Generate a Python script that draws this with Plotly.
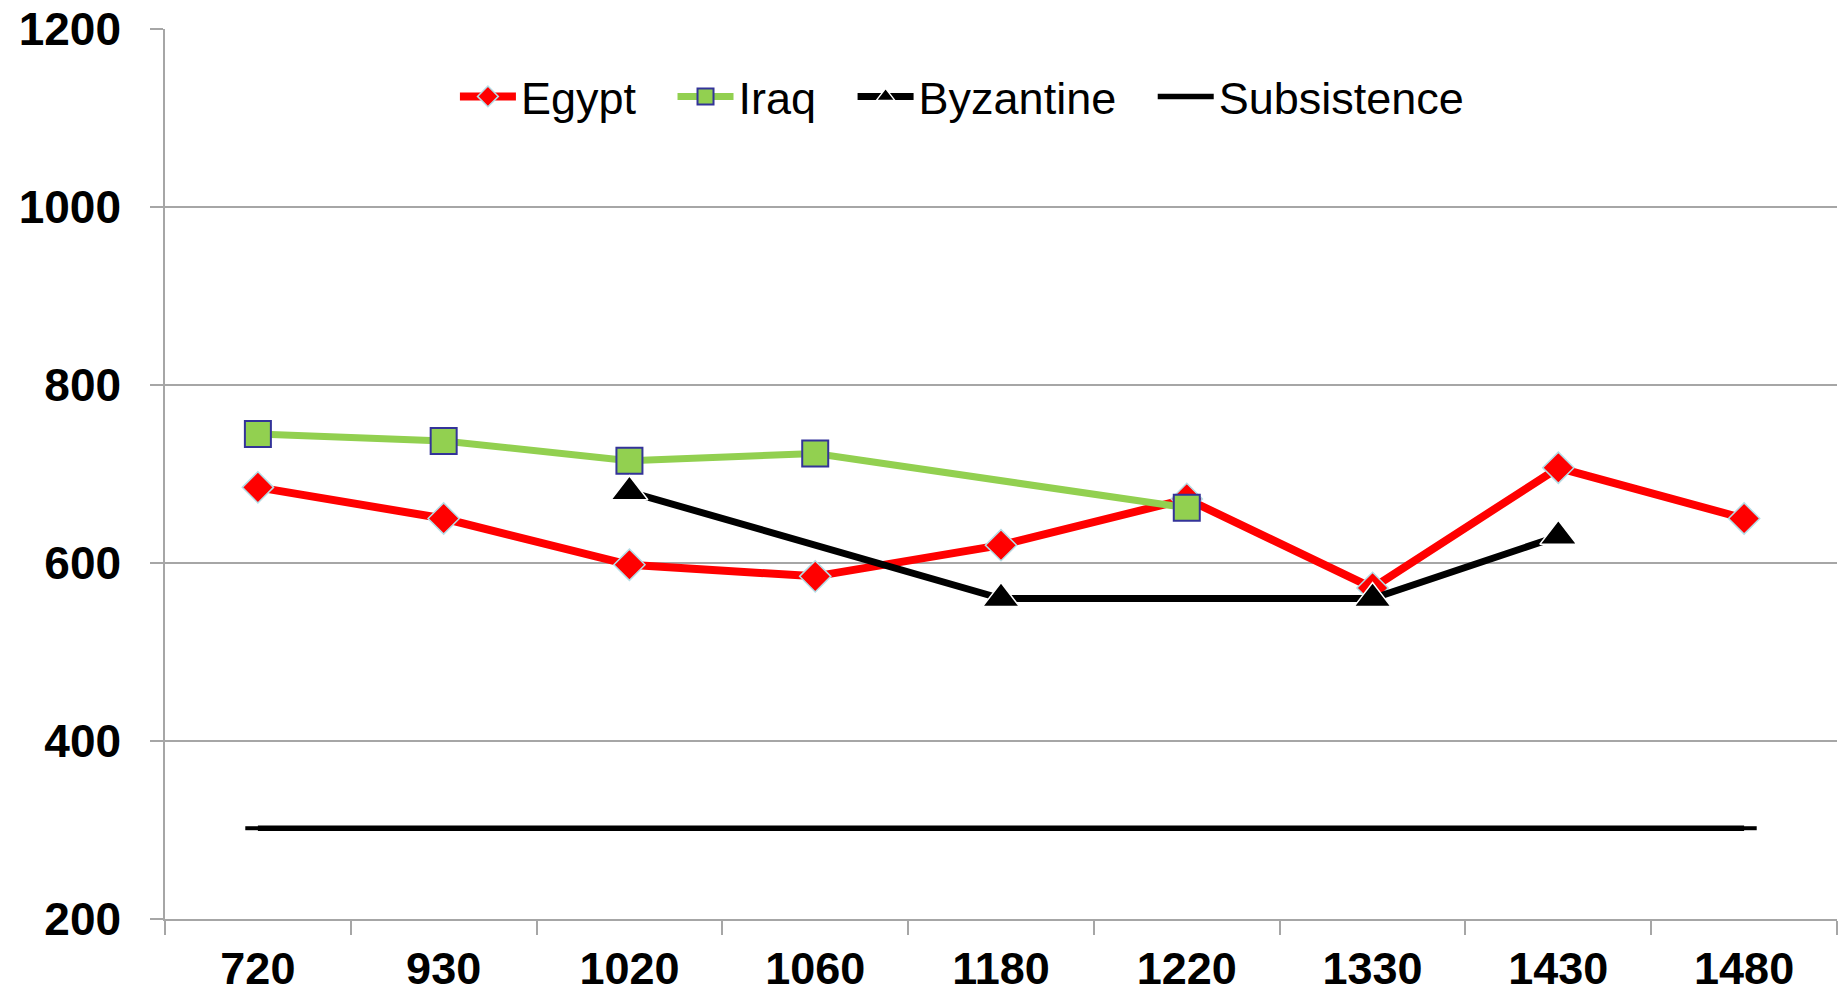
import plotly.graph_objects as go

years = ["720", "930", "1020", "1060", "1180", "1220", "1330", "1430", "1480"]
egypt = [685, 650, 598, 585, 620, 672, 572, 707, 650]
iraq = [745, 737, 715, 723, None, 662, None, None, None]
byzantine = [None, None, 680, None, 560, None, 560, 630, None]
subsistence = [302, 302, 302, 302, 302, 302, 302, 302, 302]

y_ticks = [200, 400, 600, 800, 1000, 1200]

GRID = "#a6a6a6"
FONT = "Liberation Sans, Arial, sans-serif"
PAD = "\u2002\u2009"

fig = go.Figure()
fig.add_trace(go.Scatter(
    x=years, y=egypt, name="Egypt" + PAD, mode="lines+markers", connectgaps=True,
    line=dict(color="#ff0000", width=8),
    marker=dict(symbol="diamond", size=24, color="#ff0000",
                line=dict(color="#b4dde6", width=1.5)),
))
fig.add_trace(go.Scatter(
    x=years, y=iraq, name="Iraq" + PAD, mode="lines+markers", connectgaps=True,
    line=dict(color="#92d050", width=7),
    marker=dict(symbol="square", size=26, color="#92d050",
                line=dict(color="#333399", width=2)),
))
fig.add_trace(go.Scatter(
    x=years, y=byzantine, name="Byzantine" + PAD, mode="lines+markers", connectgaps=True,
    line=dict(color="#000000", width=7),
    marker=dict(symbol="triangle-up", size=32, color="#000000",
                line=dict(color="#ffffff", width=1.5)),
))
fig.add_trace(go.Scatter(
    x=years, y=subsistence, name="Subsistence", mode="lines+markers",
    line=dict(color="#000000", width=5.5),
    marker=dict(symbol="line-ew", size=18, color="#000000",
                line=dict(color="#000000", width=4)),
))

fig.update_layout(
    width=1847, height=993,
    margin=dict(l=165, r=10, t=29, b=74),
    paper_bgcolor="white", plot_bgcolor="white",
    font=dict(family=FONT, color="black"),
    showlegend=True,
    legend=dict(
        orientation="h", x=0.1734, xanchor="left", y=0.924, yanchor="middle",
        font=dict(family=FONT, size=45, color="black"),
        itemwidth=56, bgcolor="rgba(0,0,0,0)", traceorder="normal",
    ),
    xaxis=dict(
        type="category", range=[-0.5, 8.5], automargin=False,
        showgrid=False, zeroline=False,
        showline=True, linecolor=GRID, linewidth=1.5,
        ticks="outside", tickson="boundaries", ticklen=14,
        tickcolor=GRID, tickwidth=1.5,
        tickfont=dict(family=FONT, size=45, color="black", weight="bold"),
        ticklabelstandoff=9,
    ),
    yaxis=dict(
        range=[200, 1200], tickvals=y_ticks, ticktext=[str(v) for v in y_ticks],
        automargin=False,
        showgrid=True, gridcolor=GRID, gridwidth=1.5, zeroline=False,
        showline=True, linecolor=GRID, linewidth=1.5,
        ticks="outside", ticklen=13, tickcolor=GRID, tickwidth=1.5,
        tickfont=dict(family=FONT, size=46, color="black", weight="bold"),
        ticklabelstandoff=20,
    ),
)

fig.write_html("out.html", config={"displayModeBar": False},
               post_script="document.body.style.margin='0';")
